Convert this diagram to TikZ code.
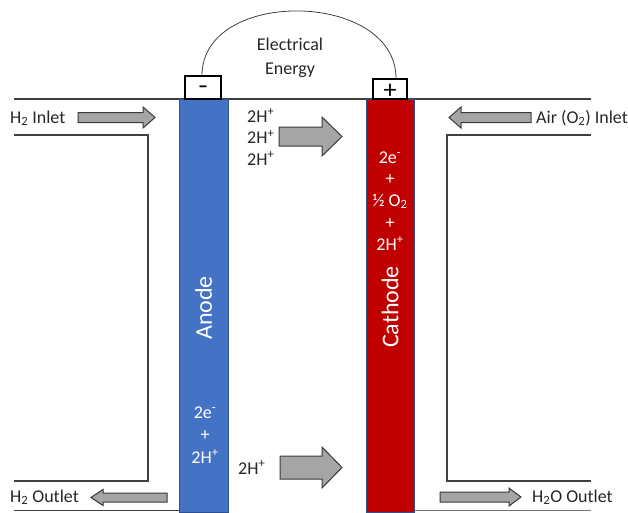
\documentclass[tikz,border=0pt]{standalone}
\usepackage{fontspec}
\setmainfont{Carlito}
\usetikzlibrary{calc}
\definecolor{anodeblue}{HTML}{4472C4}
\definecolor{cathred}{HTML}{C00000}
\definecolor{edgeblue}{HTML}{2F528F}
\definecolor{arrowfill}{HTML}{A5A5A5}
\definecolor{arrowedge}{HTML}{3A3A3A}
\definecolor{linegray}{HTML}{404040}
\newcommand{\garrow}[6]{% tail x, tip x, y, head length, head half width, shaft half width
  \draw[grayarrow] (#1,{#3-#6}) -- ({#2-#4},{#3-#6}) -- ({#2-#4},{#3-#5}) -- (#2,#3)
    -- ({#2-#4},{#3+#5}) -- ({#2-#4},{#3+#6}) -- (#1,{#3+#6}) -- cycle;}
\begin{document}
\begin{tikzpicture}[x=1pt,y=-1pt,
  txt/.style={font=\fontsize{18}{22}\selectfont, inner sep=0pt, text=black!85},
  wtxt/.style={font=\fontsize{18}{22}\selectfont, inner sep=0pt, text=white, anchor=base},
  bigw/.style={font=\fontsize{24}{28}\selectfont, inner sep=0pt, text=white, rotate=90},
  electrode/.style={draw=edgeblue, line width=0.6pt, minimum width=#1, minimum height=413pt, inner sep=0pt},
  termbox/.style={draw=black, fill=white, line width=1.1pt, inner sep=0pt},
  wall/.style={draw=linegray, line width=1.2pt},
  grayarrow/.style={fill=arrowfill, draw=arrowedge, line width=1pt, line join=miter}]
\useasboundingbox (0,0) rectangle (628,512);
% top line
\draw[wall] (14,99) -- (591,99);
% electrodes
\node[electrode=49pt, fill=anodeblue] (anode) at (203.5,305.5) {};
\node[electrode=48pt, fill=cathred] (cathode) at (390,305.5) {};
\node[bigw] (anodetxt) at (203.5,308) {Anode};
\node[bigw] (cathtxt) at (390,307) {Cathode};
% terminal boxes
\node[termbox, minimum width=36pt, minimum height=23pt] (minus) at (203,87.5) {};
\node[inner sep=0pt, font=\fontsize{20}{20}\selectfont\bfseries] (minussign) at (203,89) {–};
\node[termbox, minimum width=34pt, minimum height=20pt] (plus) at (390,89) {};
\node[inner sep=0pt, font=\fontsize{26}{26}\selectfont] (plussign) at (390,91.5) {+};
% external circuit
\coordinate (wl) at ($(minus.north)+(-1,0)$);
\coordinate (wr) at ($(plus.north)+(6,0)$);
\draw[draw=linegray, line width=0.8pt] (wl) .. controls +(0,-88) and +(0,-88) .. (wr);
\node[txt, anchor=base] (elec) at (290,50) {Electrical};
\node[txt, anchor=base] (energy) at (290,74) {Energy};
% chambers
\draw[wall] (14,135) -- (148,135) -- (148,481) -- (14,481);
\draw[wall] (591,135) -- (447,135) -- (447,481) -- (591,481);
\draw[wall] (14,510.5) -- (anode.west |- 0,510.5);
\draw[draw=black!55, line width=1.2pt] (cathode.east |- 0,510.5) -- (591,510.5);
% labels
\node[txt, anchor=base west] (h2in) at (10,123) {H\textsubscript{2} Inlet};
\node[txt, anchor=base west] (airin) at (536,123) {Air (O\textsubscript{2}) Inlet};
\node[txt, anchor=base west] (h2out) at (10,502) {H\textsubscript{2} Outlet};
\node[txt, anchor=base west] (h2oout) at (532,502) {H\textsubscript{2}O Outlet};
% flow arrows
\garrow{78}{155}{117.5}{12}{10.5}{5}
\garrow{531}{449}{117.5}{-12}{10.5}{5}
\garrow{167}{91}{497.5}{-12}{8}{4.5}
\garrow{440}{521}{497}{12}{9}{5}
% proton arrows
\garrow{279}{342}{136.5}{20}{19.5}{9.5}
\garrow{280}{342}{467.5}{20}{20.5}{11.5}
% proton labels
\node[txt, anchor=base west] (p1) at (247,122) {2H\textsuperscript{+}};
\node[txt, anchor=base west] (p2) at (247,143.5) {2H\textsuperscript{+}};
\node[txt, anchor=base west] (p3) at (247,165) {2H\textsuperscript{+}};
\node[txt, anchor=base west] (p4) at (238,474) {2H\textsuperscript{+}};
% anode reaction
\node[wtxt] (a1) at (205,418) {2e\textsuperscript{-}};
\node[wtxt] (a2) at (205,440.5) {+};
\node[wtxt] (a3) at (205,463) {2H\textsuperscript{+}};
% cathode reaction
\node[wtxt] (c1) at (390,163) {2e\textsuperscript{-}};
\node[wtxt] (c2) at (390,184.5) {+};
\node[wtxt] (c3) at (390,206) {½ O\textsubscript{2}};
\node[wtxt] (c4) at (390,228) {+};
\node[wtxt] (c5) at (390,250) {2H\textsuperscript{+}};
\end{tikzpicture}
\end{document}
